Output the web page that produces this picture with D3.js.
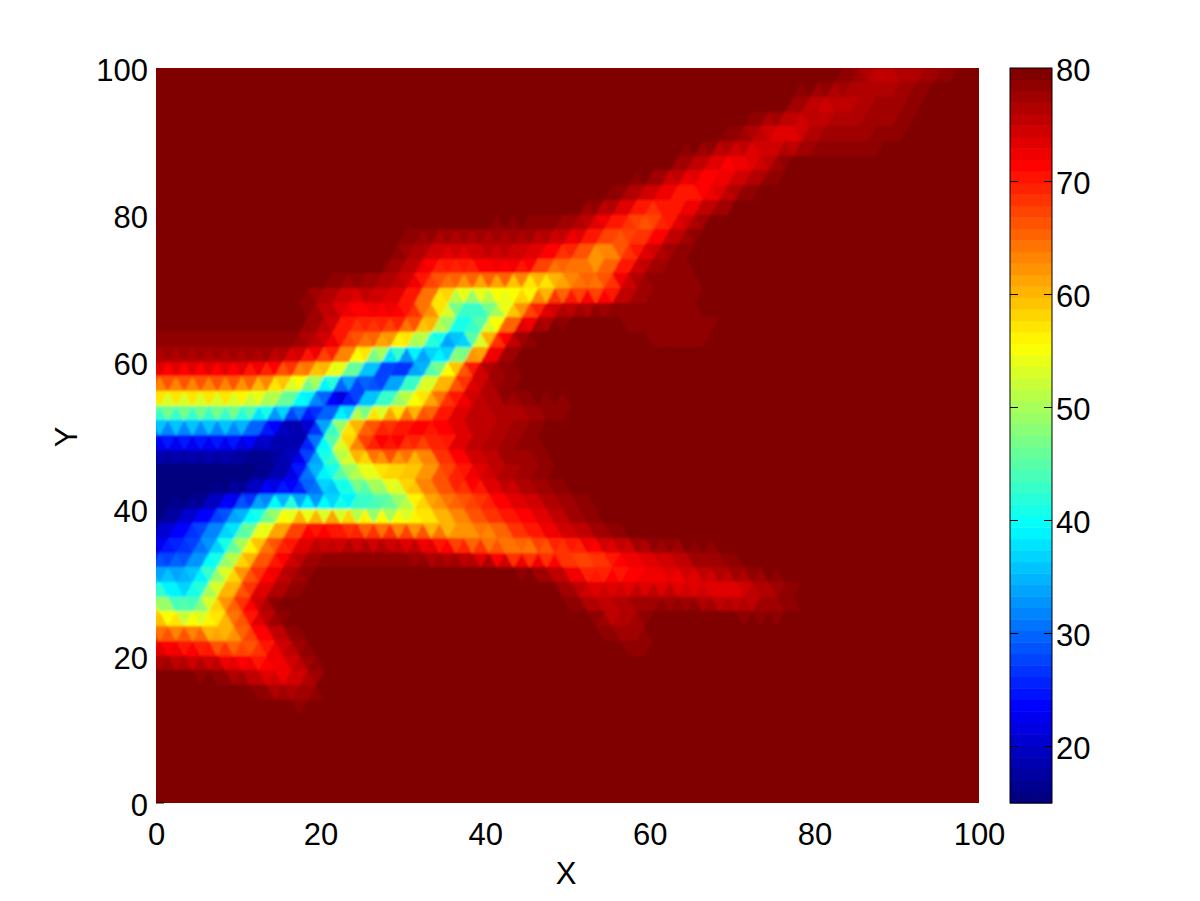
<!DOCTYPE html>
<html>

<head>
    <meta charset="utf-8">
    <script src="https://d3js.org/d3.v7.min.js"></script>
    <style>
        body { margin: 0; background: #fff; }
        svg { display: block; }
        text { font-family: "Liberation Sans", Arial, sans-serif; fill: #000; }
    </style>
</head>

<body></body>
<script>

    // data
    var xTicks = [0, 20, 40, 60, 80, 100];
    var yTicks = [0, 20, 40, 60, 80, 100];
    var barTicks = [20, 30, 40, 50, 60, 70, 80];
    var zRange = [15, 80];
    var background = 80;
    var nodeX = d3.range(0, 101, 2);
    var nodeY = d3.range(100, -1, -2);

    // one entry per Y of nodeY, top to bottom.
    // each segment is [first X, value, value, ...], nodes not listed are at the background level
    var zRows = [
        [[84, 79, 78, 76, 76, 76, 77, 78, 79]],
        [[82, 79, 78, 76, 75, 76, 77, 78, 79, 79]],
        [[78, 79, 77, 75, 75, 76, 77, 77, 78, 79]],
        [[74, 79, 78, 76, 74, 75, 76, 77, 77, 78, 79]],
        [[72, 78, 76, 74, 73, 75, 76, 77, 77, 78, 78, 79]],
        [[68, 79, 77, 76, 73, 72, 75, 78, 78, 78, 78, 78, 79]],
        [[64, 79, 77, 75, 73, 72, 73, 77, 79, 79, 79, 79, 79, 79]],
        [[62, 78, 76, 73, 71, 71, 74, 77, 79]],
        [[58, 79, 77, 74, 72, 70, 71, 74, 77, 79]],
        [[54, 79, 77, 74, 72, 70, 70, 72, 75, 78, 79]],
        [[46, 79, 79, 79, 78, 75, 72, 70, 66, 68, 72, 75, 78, 79]],
        [[32, 79, 79, 79, 79, 78, 78, 78, 78, 77, 76, 74, 71, 68, 66, 68, 72, 76, 79]],
        [[30, 78, 77, 76, 75, 75, 76, 76, 76, 75, 74, 72, 70, 66, 64, 68, 72, 75, 78, 79]],
        [[28, 79, 77, 75, 72, 72, 72, 74, 74, 73, 72, 68, 66, 62, 60, 66, 72, 76, 78, 79]],
        [[24, 79, 79, 78, 76, 74, 68, 68, 68, 69, 70, 70, 68, 62, 62, 65, 66, 70, 74, 78, 78, 78, 79]],
        [[18, 79, 78, 76, 76, 76, 75, 74, 70, 64, 60, 58, 58, 56, 52, 52, 58, 64, 64, 62, 72, 76, 78, 78, 78, 79]],
        [[18, 79, 76, 74, 72, 73, 73, 72, 66, 58, 50, 44, 46, 50, 56, 65, 72, 74, 74, 76, 77, 78, 78, 78, 78, 79]],
        [[18, 79, 77, 74, 70, 70, 71, 72, 68, 62, 46, 40, 44, 55, 66, 72, 77, 79, 79, 79, 79, 78, 78, 78, 78, 78, 79]],
        [[0, 79, 79, 79, 79, 79, 79, 79, 79, 79, 78, 76, 72, 66, 68, 68, 64, 58, 52, 40, 38, 50, 66, 74, 79], [58, 79, 79, 78, 78, 78, 79]],
        [[0, 78, 78, 78, 78, 78, 78, 78, 78, 78, 76, 74, 72, 64, 60, 55, 50, 42, 32, 28, 46, 64, 74, 78, 79], [60, 79, 79, 79, 79, 79]],
        [[0, 75, 75, 75, 75, 75, 75, 75, 75, 72, 70, 66, 62, 55, 46, 36, 24, 24, 36, 50, 66, 74, 78, 79]],
        [[0, 69, 69, 69, 69, 69, 69, 68, 66, 62, 58, 54, 46, 38, 24, 24, 32, 44, 54, 62, 72, 76, 78, 79]],
        [[0, 60, 60, 60, 60, 60, 60, 58, 55, 50, 46, 38, 26, 18, 28, 34, 44, 54, 60, 66, 72, 76, 78, 79, 79]],
        [[0, 50, 50, 50, 50, 50, 50, 49, 47, 42, 32, 24, 22, 36, 44, 50, 54, 58, 66, 72, 74, 75, 77, 77, 78, 78, 78, 79]],
        [[0, 40, 40, 40, 40, 40, 40, 36, 28, 22, 18, 24, 42, 54, 62, 66, 68, 70, 72, 73, 75, 76, 76, 76, 77, 78, 79]],
        [[0, 27, 27, 27, 27, 27, 27, 25, 21, 17, 20, 36, 52, 64, 71, 72, 72, 71, 68, 72, 74, 75, 77, 78, 79]],
        [[0, 20, 20, 20, 20, 20, 20, 18, 17, 18, 20, 36, 48, 60, 66, 70, 70, 64, 68, 72, 75, 76, 77, 78, 78, 79]],
        [[0, 16, 16, 16, 16, 16, 16, 16, 17, 20, 28, 38, 44, 54, 56, 60, 58, 58, 64, 68, 72, 74, 76, 77, 78, 79]],
        [[0, 15, 15, 15, 15, 15, 15, 16, 18, 20, 26, 38, 42, 48, 52, 55, 58, 63, 66, 69, 72, 74, 76, 77, 78, 79]],
        [[0, 15, 15, 15, 16, 18, 20, 24, 28, 26, 24, 30, 34, 40, 44, 48, 54, 60, 64, 66, 68, 70, 73, 74, 76, 77, 78, 79]],
        [[0, 15, 16, 18, 20, 24, 30, 35, 42, 50, 50, 44, 46, 44, 44, 44, 46, 54, 60, 64, 66, 68, 70, 72, 73, 75, 77, 78, 79]],
        [[0, 17, 20, 24, 28, 32, 38, 46, 54, 62, 68, 70, 68, 64, 60, 60, 58, 56, 56, 60, 64, 66, 68, 70, 72, 74, 76, 77, 78, 79]],
        [[0, 20, 24, 26, 30, 36, 44, 54, 62, 68, 72, 73, 72, 72, 72, 72, 72, 72, 70, 66, 62, 62, 62, 66, 68, 70, 72, 74, 76, 77, 78, 79]],
        [[0, 24, 26, 28, 33, 42, 52, 62, 68, 72, 76, 77, 78, 78, 78, 78, 77, 76, 75, 74, 72, 70, 66, 62, 64, 66, 66, 68, 70, 72, 74, 75, 76, 77, 78, 78, 79]],
        [[0, 30, 32, 32, 38, 48, 58, 66, 70, 74, 77, 79, 79, 79, 79, 79, 79, 79, 79, 79, 79, 79, 79, 78, 78, 76, 72, 68, 66, 70, 71, 72, 73, 74, 76, 77, 78, 79]],
        [[0, 38, 36, 36, 44, 54, 62, 70, 74, 77, 79], [46, 79, 78, 76, 74, 72, 71, 72, 72, 72, 72, 72, 73, 74, 75, 77, 78, 79]],
        [[0, 48, 42, 40, 46, 60, 66, 72, 77, 79], [50, 79, 76, 74, 76, 77, 77, 77, 76, 76, 74, 73, 74, 76, 77, 79]],
        [[0, 56, 50, 46, 52, 62, 68, 74, 78], [52, 79, 76, 75, 77, 79], [68, 79, 78, 77, 78, 78, 79]],
        [[0, 62, 60, 60, 60, 56, 62, 70, 75, 78], [54, 79, 76, 77, 79]],
        [[0, 70, 70, 69, 66, 62, 64, 68, 72, 76, 79], [56, 79, 77, 79]],
        [[0, 75, 74, 73, 72, 72, 70, 68, 70, 74, 77, 79], [58, 78, 79]],
        [[0, 79, 79, 78, 78, 76, 75, 73, 72, 72, 76, 79]],
        [[10, 79, 78, 76, 74, 76, 78]],
        [[14, 79, 78, 78, 79]],
        [], [], [], [], [], [], []
    ];

    // set the dimensions of the graph
    var svgWidth = 1200, svgHeight = 901;
    var plot = { left: 156, right: 979, top: 68, bottom: 803 };
    var bar = { left: 1010, right: 1052 };
    var fontSize = 31;

    var svg = d3.select("body")
        .append("svg")
        .attr("width", svgWidth)
        .attr("height", svgHeight)
        .attr("font-size", fontSize);

    var x = d3.scaleLinear().domain([0, 100]).range([plot.left, plot.right]);
    var y = d3.scaleLinear().domain([0, 100]).range([plot.bottom, plot.top]);

    // 64 level jet colormap
    function jet(t) {
        var c = function (v) { return Math.round(255 * Math.max(0, Math.min(1, v))); };
        return d3.rgb(c(1.5 - Math.abs(4 * t - 3)), c(1.5 - Math.abs(4 * t - 2)), c(1.5 - Math.abs(4 * t - 1))).formatHex();
    }
    var levels = d3.range(64).map(function (i) { return jet(i / 63); });
    var color = d3.scaleQuantize().domain(zRange).range(levels);

    // rows expanded to a full table of nodes
    var table = zRows.map(function (segments) {
        var row = nodeX.map(function () { return background; });
        segments.forEach(function (s) {
            var start = nodeX.indexOf(s[0]);
            s.slice(1).forEach(function (v, k) { row[start + k] = v; });
        });
        return row;
    });

    // rows are staggered, as in the triangular mesh of the original
    function node(j, i) {
        var k = Math.max(0, Math.min(nodeX.length - 1, i));
        return {
            px: x(i * 2 + (j % 2 ? 0.5 : -0.5)),
            py: y(nodeY[j]),
            z: table[j][k]
        };
    }

    var triangles = [];
    for (var j = 0; j < nodeY.length - 1; j++) {
        for (var i = -1; i < nodeX.length; i++) {
            var a = node(j, i), b = node(j, i + 1), c = node(j + 1, i), e = node(j + 1, i + 1);
            if (j % 2 === 0) {
                triangles.push([a, c, b], [b, c, e]);
            } else {
                triangles.push([a, c, e], [a, e, b]);
            }
        }
    }

    svg.append("clipPath")
        .attr("id", "plot-clip")
        .append("rect")
        .attr("x", plot.left)
        .attr("y", plot.top)
        .attr("width", plot.right - plot.left)
        .attr("height", plot.bottom - plot.top);

    // the reference is a soft jpeg, a small blur takes the hard edge off the mesh
    svg.append("filter")
        .attr("id", "soft")
        .append("feGaussianBlur")
        .attr("stdDeviation", 0.9);

    var mesh = svg.append("g")
        .attr("clip-path", "url(#plot-clip)")
        .append("g")
        .attr("filter", "url(#soft)");

    mesh.append("rect")
        .attr("x", plot.left - 10)
        .attr("y", plot.top - 10)
        .attr("width", plot.right - plot.left + 20)
        .attr("height", plot.bottom - plot.top + 20)
        .style("fill", color(background));

    var triPath = d3.line().x(function (d) { return d.px; }).y(function (d) { return d.py; });

    mesh.append("g")
        .attr("shape-rendering", "crispEdges")
        .selectAll("path")
        .data(triangles)
        .enter()
        .append("path")
        .attr("d", function (d) { return triPath(d) + "Z"; })
        .style("fill", function (d) { return color(d3.mean(d, function (n) { return n.z; })); })
        .style("stroke", function (d) { return color(d3.mean(d, function (n) { return n.z; })); })
        .style("stroke-width", 1);

    // d3 axes put their own font on the group, take it off again
    function plainAxis(g) {
        g.attr("font-size", null).attr("font-family", null);
        g.select(".domain").remove();
    }

    //x-axis
    svg.append("g")
        .attr("transform", "translate(0," + plot.bottom + ")")
        .call(d3.axisBottom(x).tickValues(xTicks).tickSize(0).tickPadding(20))
        .call(plainAxis);

    svg.append("text")
        .attr("x", 566)
        .attr("y", 884)
        .attr("text-anchor", "middle")
        .text("X");

    //y-axis
    var yAxis = svg.append("g")
        .attr("transform", "translate(" + plot.left + ",0)")
        .call(d3.axisLeft(y).tickValues(yTicks).tickSize(0).tickPadding(8))
        .call(plainAxis);
    yAxis.selectAll("text").attr("dy", "0.4em");

    svg.append("text")
        .attr("transform", "translate(77,437) rotate(-90)")
        .attr("text-anchor", "middle")
        .text("Y");

    // the only tick left showing on the main axes
    svg.append("line")
        .attr("x1", x(0))
        .attr("x2", x(0) + 8)
        .attr("y1", y(0))
        .attr("y2", y(0))
        .style("stroke", "#000");

    //colorbar
    var barY = d3.scaleLinear().domain(zRange).range([plot.bottom, plot.top]);
    var barBand = d3.scaleBand().domain(d3.range(64)).range([plot.bottom, plot.top]);

    svg.append("g")
        .selectAll("rect")
        .data(levels)
        .enter()
        .append("rect")
        .attr("x", bar.left)
        .attr("y", function (d, i) { return barBand(i); })
        .attr("width", bar.right - bar.left)
        .attr("height", barBand.bandwidth() + 0.5)
        .style("fill", function (d) { return d; });

    svg.append("rect")
        .attr("x", bar.left)
        .attr("y", plot.top)
        .attr("width", bar.right - bar.left)
        .attr("height", plot.bottom - plot.top)
        .style("fill", "none")
        .style("stroke", "#000");

    var barAxis = svg.append("g")
        .attr("transform", "translate(" + bar.right + ",0)")
        .call(d3.axisRight(barY).tickValues(barTicks).tickSize(0).tickPadding(4))
        .call(plainAxis);
    barAxis.selectAll("text").attr("dy", "0.4em");

    svg.append("g")
        .selectAll("path")
        .data(barTicks.filter(function (d) { return d < 80; }))
        .enter()
        .append("path")
        .attr("d", function (d) {
            var py = Math.round(barY(d)) + 0.5;
            return "M" + bar.left + "," + py + "h8M" + bar.right + "," + py + "h-8";
        })
        .style("stroke", "#000")
        .style("fill", "none");

</script>

</html>
